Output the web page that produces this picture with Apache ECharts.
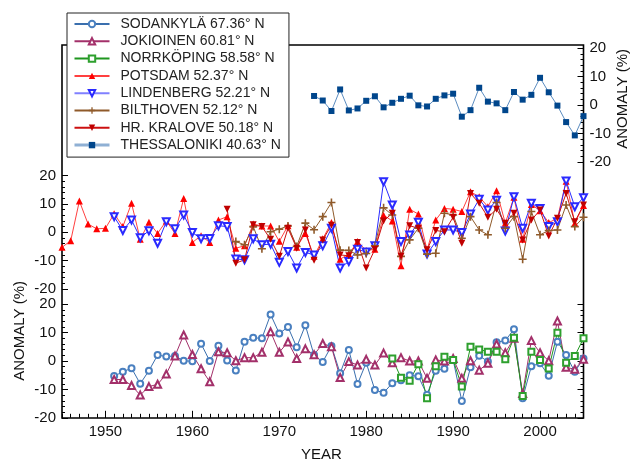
<!DOCTYPE html>
<html><head><meta charset="utf-8">
<script src="https://cdn.jsdelivr.net/npm/echarts@6/dist/echarts.min.js"></script>
<style>html,body{margin:0;padding:0;background:#fff}#c{width:632px;height:462px}</style>
</head><body><div id="c"></div>
<script>
// ---- data ----
const thessStart = 1974;
const thessVals = [3.2,1.6,-2.1,5.5,-1.9,-1.2,1.5,3.1,-0.8,0.8,2.2,3.3,-0.1,-0.5,2.2,3.4,4.0,-4.1,-1.8,6.1,1.2,0.6,-1.8,4.6,1.9,3.6,9.6,4.5,-0.2,-6.0,-10.7,-3.9];

const potsdamStart = 1945;
const potsdamVals = [-5.3,-3.0,11.0,2.9,1.2,1.4,6.5,2.0,10.2,-2.5,3.5,-0.4,4.0,-0.4,11.9,-3.6,-1.2,-3.6,4.3,5.5,-5.6,-4.8,2.9,2.2,2.2,-3.2,2.3,-5.3,-0.4,-8.5,-2.3,3.4,-9.5,-7.7,-3.3,-6.4,-6.0,6.0,4.0,-11.8,8.1,6.4,-6.2,4.3,8.4,8.1,7.3,14.3,12.5,9.0,14.6,3.2,12.3,-2.5,9.8,7.6,3.4,4.9,18.0,3.2,9.4];

const lindenStart = 1951;
const lindenVals = [5.5,0.6,4.3,-1.9,0.5,-3.9,3.7,1.2,6.1,-0.1,-2.3,-2.2,2.3,2.0,-9.4,-9.7,-2.3,-4.4,-4.2,-10.6,-6.8,-12.6,-7.1,-8.0,-4.8,1.4,-12.6,-10.3,-6.0,-7.0,-4.8,17.8,9.6,-3.3,-1.0,3.5,-7.7,-3.3,0.8,0.8,-0.1,6.4,11.6,7.8,11.3,0.4,12.5,1.4,10.2,8.4,2.0,3.7,18.1,9.0,12.2];

const biltStart = 1965;
const biltVals = [-3.3,-4.4,2.0,-5.8,0.2,1.1,2.2,-5.0,3.2,0.9,5.5,10.5,-6.3,-6.4,-8.0,-7.5,-4.8,8.6,6.1,-8.5,-2.7,1.4,-7.7,-7.4,6.7,6.1,-2.1,5.5,0.8,-0.9,10.5,1.4,5.5,-9.5,7.3,-0.9,0.6,0.8,9.6,2.0,5.3];

const kraloveStart = 1964;
const kraloveVals = [8.1,-10.9,-9.7,2.6,2.0,-2.5,-8.5,1.4,-5.6,0.8,-9.9,-2.7,2.5,-8.0,-8.3,-3.6,-12.6,-6.0,4.0,6.7,-8.5,2.3,1.4,-6.2,0.6,0.2,5.3,-3.9,13.7,10.2,5.3,8.1,3.2,6.7,-2.7,4.3,7.8,-1.3,4.9,13.7,3.7,9.6];

const sodStart = 1951;
const sodVals = [-5.3,-3.8,-2.5,-8.0,-3.4,2.1,1.6,1.8,0.1,-0.1,6.1,0.0,5.4,0.2,-3.3,6.8,8.2,8.0,16.4,9.7,12.0,4.9,12.6,2.1,-0.3,5.3,-4.3,3.9,-8.1,-0.6,-10.2,-11.2,-7.8,-6.8,-5.0,-5.4,-11.9,-3.4,-2.7,0.4,-14.1,-2.2,1.9,-0.2,6.6,7.2,11.2,-13.1,-1.8,-0.8,-5.2,6.8,2.1,-3.8,0.9];

const jokStart = 1951;
const jokVals = [-6.5,-6.5,-8.6,-12.0,-9.0,-8.2,-4.6,1.8,9.2,2.3,-2.7,-7.3,3.3,2.9,0.1,1.2,1.2,3.1,10.3,3.1,6.7,0.9,4.3,2.2,6.2,5.0,-5.8,-0.2,-1.4,0.6,-1.4,2.8,-0.6,1.2,0.0,0.0,-6.1,0.4,0.0,0.9,-6.1,0.1,-3.2,-0.8,6.0,2.9,8.0,-11.4,7.2,2.9,0.1,14.1,-2.2,-2.9,0.6];

const norrStart = 1983;
const norrVals = [0.9,-5.9,-6.9,-1.1,-13.1,-1.8,1.5,0.4,-9.0,5.0,4.1,3.3,3.3,0.6,8.2,-12.3,3.3,0.4,-2.6,10.0,-0.6,1.8,8.0];

const decadeTicks = [1950,1960,1970,1980,1990,2000];

const names = {
  sod: 'SODANKYLÄ 67.36° N',
  jok: 'JOKIOINEN 60.81° N',
  norr: 'NORRKÖPING 58.58° N',
  pot: 'POTSDAM 52.37° N',
  lin: 'LINDENBERG 52.21° N',
  bil: 'BILTHOVEN 52.12° N',
  hr: 'HR. KRALOVE 50.18° N',
  th: 'THESSALONIKI 40.63° N'
};

function pairs(start, vals){ return vals.map((v,i)=>[start+i, v]); }

const FONT = '"Liberation Sans", Arial, sans-serif';
const TXT = '#111';
const PLUS = 'path://M4,0 H6 V4 H10 V6 H6 V10 H4 V6 H0 V4 H4 Z';

const L = 62, R = 48.5, H = 113.5;
const gridTops = [48.3, 175.5, 304.3];

function yAx(grid, pos, labels, ticks){
  return {
    type:'value', gridIndex:grid, position:pos, min:-20, max:20, interval:10,
    axisLine:{show:false, onZero:false},
    axisTick:{show:ticks, inside:true, length:6, lineStyle:{color:'#000'}},
    minorTick:{show:ticks, splitNumber:5, length:3, lineStyle:{color:'#000'}},
    splitLine:{show:false},
    axisLabel:{show:labels, margin:6, color:TXT, fontSize:15, fontFamily:FONT}
  };
}

const option = {
  animation:false,
  backgroundColor:'#fff',
  grid:[
    {left:L, right:R, top:45, height:373, show:true, borderColor:'#000', borderWidth:1.6, backgroundColor:'transparent'},
    {left:L, right:R, top:gridTops[0], height:H},
    {left:L, right:R, top:gridTops[1], height:H},
    {left:L, right:R, top:gridTops[2], height:H}
  ],
  xAxis:[
    {type:'value', gridIndex:1, min:1945, max:2005, show:false},
    {type:'value', gridIndex:2, min:1945, max:2005, show:false},
    {type:'value', gridIndex:3, min:1945, max:2005, interval:1, position:'bottom',
      axisLine:{show:false, onZero:false}, splitLine:{show:false},
      axisTick:{show:true, inside:true, length:4, lineStyle:{color:'#000'}},
      axisLabel:{show:true, margin:7, color:TXT, fontSize:15, fontFamily:FONT,
        formatter:v => (decadeTicks.indexOf(v) >= 0 ? String(v) : '')}
    },
    {type:'value', gridIndex:3, min:1945, max:2005, position:'bottom',
      axisLine:{show:false, onZero:false}, splitLine:{show:false}, axisLabel:{show:false},
      axisTick:{show:true, inside:true, length:7, customValues:decadeTicks, lineStyle:{color:'#000'}}
    }
  ],
  yAxis:[
    yAx(1,'right',true,true),
    yAx(2,'left',true,true),
    yAx(3,'left',true,true),
    yAx(3,'right',false,true)
  ],
  graphic:[
    {type:'text', left:12, top:281, rotation:Math.PI/2, style:{text:'ANOMALY (%)', fill:TXT, font:'15px '+FONT}},
    {type:'text', right:2, top:49, rotation:Math.PI/2, style:{text:'ANOMALY (%)', fill:TXT, font:'15px '+FONT}},
    {type:'text', left:301, top:447, style:{text:'YEAR', fill:TXT, font:'15px '+FONT}}
  ],
  legend:{
    orient:'vertical', left:67, top:13,
    padding:[3,8,4,6], itemGap:1.3, itemWidth:35, itemHeight:8,
    backgroundColor:'#fff', borderColor:'#222', borderWidth:1,
    selectedMode:false,
    itemStyle:{borderWidth:1},
    textStyle:{fontSize:14, lineHeight:16, fontFamily:FONT, color:'#222', padding:[0,0,0,6]},
    data:[names.sod, names.jok, names.norr, names.pot,
          {name:names.lin, lineStyle:{width:2, color:'#8080ff'}},
          names.bil, names.hr,
          {name:names.th, lineStyle:{width:3, color:'#8fb0d4'}}]
  },
  series:[
    {name:names.th, type:'line', xAxisIndex:0, yAxisIndex:0, data:pairs(thessStart, thessVals),
      symbol:'rect', symbolSize:6, lineStyle:{color:'#5b8cc0', width:1}, itemStyle:{color:'#00468c'}},
    {name:names.pot, type:'line', xAxisIndex:1, yAxisIndex:1, data:pairs(potsdamStart, potsdamVals),
      symbol:'triangle', symbolSize:7, lineStyle:{color:'#ff4040', width:1}, itemStyle:{color:'#ff0000'}},
    {name:names.lin, type:'line', xAxisIndex:1, yAxisIndex:1, data:pairs(lindenStart, lindenVals),
      symbol:'emptyTriangle', symbolRotate:180, symbolSize:7, lineStyle:{color:'#2a2aff', width:1}, itemStyle:{color:'#2a2aff', borderWidth:1}},
    {name:names.bil, type:'line', xAxisIndex:1, yAxisIndex:1, data:pairs(biltStart, biltVals),
      symbol:PLUS, symbolSize:8, lineStyle:{color:'#8f5a2a', width:1}, itemStyle:{color:'#8f5a2a'}},
    {name:names.hr, type:'line', xAxisIndex:1, yAxisIndex:1, data:pairs(kraloveStart, kraloveVals),
      symbol:'triangle', symbolRotate:180, symbolSize:7, lineStyle:{color:'#cc1010', width:1}, itemStyle:{color:'#c00000'}},
    {name:names.sod, type:'line', xAxisIndex:2, yAxisIndex:2, data:pairs(sodStart, sodVals),
      symbol:'emptyCircle', symbolSize:6, lineStyle:{color:'#3a6fae', width:1}, itemStyle:{color:'#4a80c0', borderWidth:1}},
    {name:names.jok, type:'line', xAxisIndex:2, yAxisIndex:2, data:pairs(jokStart, jokVals),
      symbol:'emptyTriangle', symbolSize:7, lineStyle:{color:'#a3306a', width:1}, itemStyle:{color:'#a3306a', borderWidth:1}},
    {name:names.norr, type:'line', xAxisIndex:2, yAxisIndex:2, data:pairs(norrStart, norrVals),
      symbol:'emptyRect', symbolSize:6, lineStyle:{color:'#1f961f', width:1}, itemStyle:{color:'#2ea02e', borderWidth:1}}
  ]
};

const chart = echarts.init(document.getElementById('c'), null, {renderer:'canvas'});
chart.setOption(option);
</script>
</body></html>
